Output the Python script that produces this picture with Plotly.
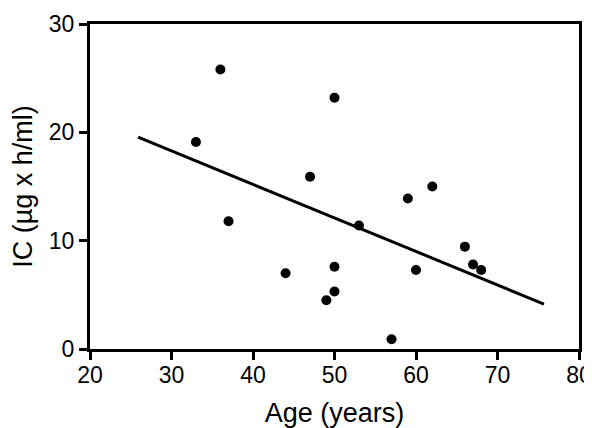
import plotly.graph_objects as go

age = [33, 36, 37, 44, 47, 49, 50, 50, 50, 53, 57, 59, 60, 62, 66, 67, 68]
ic = [19.1, 25.8, 11.8, 7.0, 15.9, 4.5, 23.2, 7.6, 5.3, 11.4, 0.9, 13.9, 7.3, 15.0, 9.45, 7.8, 7.3]

fit_x = [25.9, 75.7]
fit_y = [19.55, 4.15]

fig = go.Figure()
fig.add_trace(go.Scatter(
    x=fit_x, y=fit_y,
    mode='lines',
    line=dict(color='black', width=3),
    showlegend=False
))
fig.add_trace(go.Scatter(
    x=age, y=ic,
    mode='markers',
    marker=dict(color='black', size=10),
    showlegend=False
))

axis_style = dict(
    showline=True, linecolor='black', linewidth=3, mirror=True,
    ticks='outside', ticklen=8, tickwidth=3, tickcolor='black',
    showgrid=False, zeroline=False, automargin=False,
    tickfont=dict(size=23, color='black'),
)

# page body has an 8px margin, so the figure is a bit smaller than the window
fig.update_layout(
    width=584, height=420,
    margin=dict(l=82, r=13, t=16, b=79),
    plot_bgcolor='white', paper_bgcolor='white',
    font=dict(family='Liberation Sans, Arial, sans-serif', color='black'),
    xaxis=dict(range=[20, 80], dtick=10, ticklabelstandoff=-5,
               title=dict(text='Age (years)', font=dict(size=27), standoff=21),
               **axis_style),
    yaxis=dict(range=[0, 30], dtick=10,
               title=dict(text='IC (µg x h/ml)', font=dict(size=27), standoff=9),
               **axis_style),
)

fig.write_html("out.html")
